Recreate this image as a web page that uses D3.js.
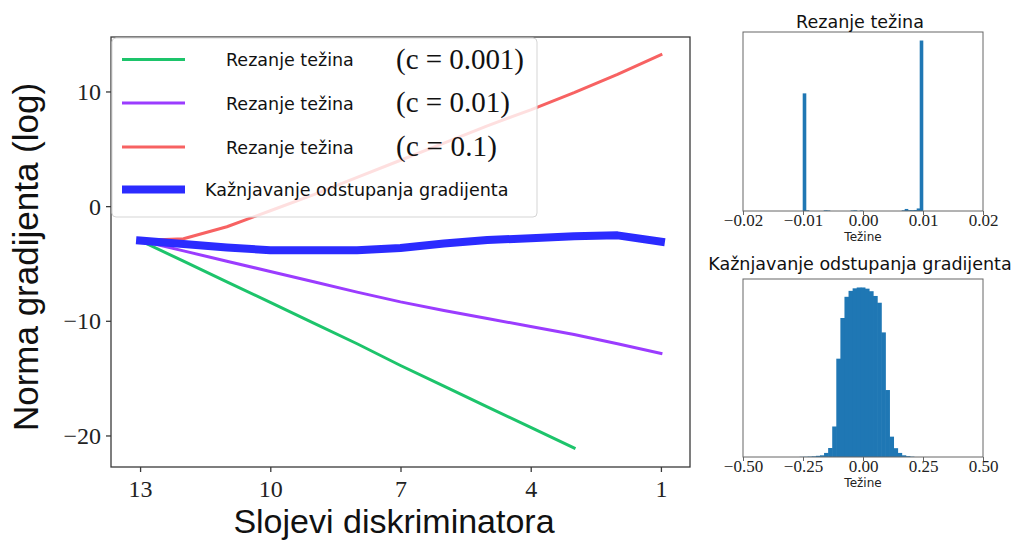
<!DOCTYPE html>
<html>
<head>
<meta charset="utf-8">
<script src="https://cdn.jsdelivr.net/npm/d3@7"></script>
<style>
body { margin: 0; background: #fff; }
</style>
</head>
<body>
<script>
// main chart data (gradient norm, log scale) per discriminator layer
let layers = [13, 12, 11, 10, 9, 8, 7, 6, 5, 4, 3, 2, 1];
let clip001 = [-3.0, -4.8, -6.6, -8.4, -10.2, -12.0, -13.9, -15.7, -17.5, -19.3, -21.1]; // stops at layer 3
let clip01 = [-3.0, -3.9, -4.8, -5.7, -6.6, -7.5, -8.35, -9.1, -9.8, -10.5, -11.2, -12.0, -12.85];
let clip1 = [-3.0, -2.85, -1.8, -0.4, 1.0, 2.5, 4.0, 5.5, 7.0, 8.4, 9.9, 11.5, 13.2];
let gradPen = [-3.0, -3.3, -3.6, -3.85, -3.85, -3.85, -3.65, -3.25, -2.95, -2.8, -2.62, -2.55, -3.1];
let seriesLabels = ['Rezanje težina', 'Rezanje težina', 'Rezanje težina', 'Kažnjavanje odstupanja gradijenta'];
let seriesMath = ['(c = 0.001)', '(c = 0.01)', '(c = 0.1)', ''];
let xTicks = [13, 10, 7, 4, 1];
let yTicks = [10, 0, -10, -20];

// histogram of weights, weight clipping (bins of 0.0005 from -0.01)
let clipBinStart = -0.01, clipBinW = 0.0005;
let clipCounts = [69, 0.4, 0, 0, 0, 0, 0, 0.4, 0.3, 0, 0, 0, 0, 0, 0, 0, 0.3, 0.4, 0, 0.3,
                  0, 0, 0, 0, 0, 0, 0, 0, 0, 0, 0, 0, 0, 0.4, 1.2, 0.5, 0.5, 0.6, 1.5, 100];
let clipTicks = [-0.02, -0.01, 0.00, 0.01, 0.02];

// histogram of weights, gradient penalty (bins of 0.017 from -0.263)
let gpBinStart = -0.263, gpBinW = 0.017;
let gpCounts = [0.1, 0.15, 0.25, 0.4, 0.7, 1.0, 2.4, 5.3, 18, 58, 82, 94.5, 98, 99.5,
                100, 100, 99.3, 97.8, 95, 91, 73.5, 39.5, 12, 5.2, 2.4, 1, 0.5, 0.2];
let gpTicks = [-0.5, -0.25, 0.0, 0.25, 0.5];

let sans = 'DejaVu Sans';
let serif = 'Liberation Serif';

let svg = d3.select('body')
    .append('svg')
        .attr('width', 1023)
        .attr('height', 541);
svg.append('rect').attr('width', 1023).attr('height', 541).attr('fill', '#fff');

// ---- main chart ----
let mLeft = 111, mRight = 690, mTop = 37, mBottom = 467;
let x = d3.scaleLinear().domain([13.67, 0.33]).range([mLeft, mRight]);
let y = d3.scaleLinear().domain([-22.75, 14.75]).range([mBottom, mTop]);

let series = [
    {vals: clip001, color: '#1dc46b', w: 3},
    {vals: clip01, color: '#9b3cff', w: 3},
    {vals: clip1, color: '#f76262', w: 3},
    {vals: gradPen, color: '#2b2bff', w: 8}
];

let line = d3.line().x((d, i) => x(layers[i])).y(d => y(d));
series.forEach(s => {
    svg.append('path')
        .attr('d', line(s.vals))
        .attr('fill', 'none')
        .attr('stroke', s.color)
        .attr('stroke-width', s.w)
        .attr('stroke-linecap', 'square')
        .attr('stroke-linejoin', 'round');
});

svg.append('rect')
    .attr('x', mLeft).attr('y', mTop)
    .attr('width', mRight - mLeft).attr('height', mBottom - mTop)
    .attr('fill', 'none').attr('stroke', '#3a3a3a').attr('stroke-width', 1.3);

let xAxis = svg.append('g').attr('transform', `translate(0,${mBottom})`)
    .call(d3.axisBottom(x).tickValues(xTicks).tickSize(5).tickFormat(d => d));
xAxis.select('.domain').remove();
xAxis.selectAll('line').attr('stroke', '#3a3a3a').attr('stroke-width', 1.3);
xAxis.selectAll('text').attr('font-family', serif).attr('font-size', 24)
    .attr('fill', '#222').attr('y', 30).attr('dy', 0);

let yAxis = svg.append('g').attr('transform', `translate(${mLeft},0)`)
    .call(d3.axisLeft(y).tickValues(yTicks).tickSize(5).tickFormat(d => d < 0 ? '\u2212' + (-d) : d));
yAxis.select('.domain').remove();
yAxis.selectAll('line').attr('stroke', '#3a3a3a').attr('stroke-width', 1.3);
yAxis.selectAll('text').attr('font-family', serif).attr('font-size', 24)
    .attr('fill', '#222').attr('x', -10).attr('dy', 8);

svg.append('text')
    .attr('x', 394).attr('y', 533)
    .attr('text-anchor', 'middle')
    .attr('font-family', 'Liberation Sans').attr('font-size', 34)
    .attr('fill', '#111')
    .text('Slojevi diskriminatora');

svg.append('text')
    .attr('transform', 'translate(38,257) rotate(-90)')
    .attr('text-anchor', 'middle')
    .attr('font-family', 'Liberation Sans').attr('font-size', 35)
    .attr('fill', '#111')
    .text('Norma gradijenta (log)');

// legend
let lg = svg.append('g');
lg.append('rect')
    .attr('x', 112).attr('y', 38).attr('width', 425).attr('height', 179).attr('rx', 4)
    .attr('fill', '#fff').attr('fill-opacity', 0.8)
    .attr('stroke', '#d5d5d5').attr('stroke-width', 1);
let rowY = [59.5, 103, 147, 189.5];
series.forEach((s, i) => {
    lg.append('line')
        .attr('x1', 122).attr('x2', 185).attr('y1', rowY[i]).attr('y2', rowY[i])
        .attr('stroke', s.color).attr('stroke-width', s.w);
    lg.append('text')
        .attr('x', seriesMath[i] ? 226 : 205).attr('y', rowY[i] + 6.5)
        .attr('font-family', sans).attr('font-size', 17.5).attr('fill', '#111')
        .text(seriesLabels[i]);
    if (seriesMath[i]) {
        lg.append('text')
            .attr('x', 396).attr('y', rowY[i] + 9)
            .attr('font-family', serif).attr('font-size', 29).attr('fill', '#111')
            .attr('textLength', [128, 114, 101][i]).attr('lengthAdjust', 'spacing')
            .text(seriesMath[i]);
    }
});

// ---- histograms ----
function DrawHist(y0, y1, domain, start, bw, counts, ticks, fmt, title, titleY) {
    let hl = 743, hr = 983;
    let hx = d3.scaleLinear().domain(domain).range([hl, hr]);
    let hy = d3.scaleLinear().domain([0, d3.max(counts) * 1.05]).range([y1, y0]);
    let g = svg.append('g');
    // bars overlap a little so no seams show between neighbours
    g.selectAll('rect.bar').data(counts).join('rect')
        .attr('class', 'bar')
        .attr('x', (d, i) => hx(start + i * bw) - 0.3)
        .attr('width', (d, i) => hx(start + (i + 1) * bw) - hx(start + i * bw) + 0.6)
        .attr('y', d => hy(d))
        .attr('height', d => y1 - hy(d))
        .attr('fill', '#1f77b4');
    g.append('rect')
        .attr('x', hl).attr('y', y0).attr('width', hr - hl).attr('height', y1 - y0)
        .attr('fill', 'none').attr('stroke', '#666').attr('stroke-width', 1);
    let ax = g.append('g').attr('transform', `translate(0,${y1})`)
        .call(d3.axisBottom(hx).tickValues(ticks).tickSize(4).tickFormat(fmt));
    ax.select('.domain').remove();
    ax.selectAll('line').attr('stroke', '#666');
    ax.selectAll('text').attr('font-family', serif).attr('font-size', 17)
        .attr('fill', '#222').attr('y', 15).attr('dy', 0);
    g.append('text')
        .attr('x', 863).attr('y', y1 + 30)
        .attr('text-anchor', 'middle')
        .attr('font-family', sans).attr('font-size', 12).attr('fill', '#222')
        .text('Težine');
    g.append('text')
        .attr('x', 860).attr('y', titleY)
        .attr('text-anchor', 'middle')
        .attr('font-family', sans).attr('font-size', 17.5).attr('fill', '#111')
        .text(title);
}

let fmtTick = d3.format('.2f');
let minusFmt = d => (d < 0 ? '\u2212' + fmtTick(-d) : fmtTick(d));

DrawHist(32, 211, [-0.02, 0.02], clipBinStart, clipBinW, clipCounts, clipTicks, minusFmt, 'Rezanje težina', 28);
DrawHist(279, 457, [-0.5, 0.5], gpBinStart, gpBinW, gpCounts, gpTicks, minusFmt, 'Kažnjavanje odstupanja gradijenta', 270);
</script>
</body>
</html>
